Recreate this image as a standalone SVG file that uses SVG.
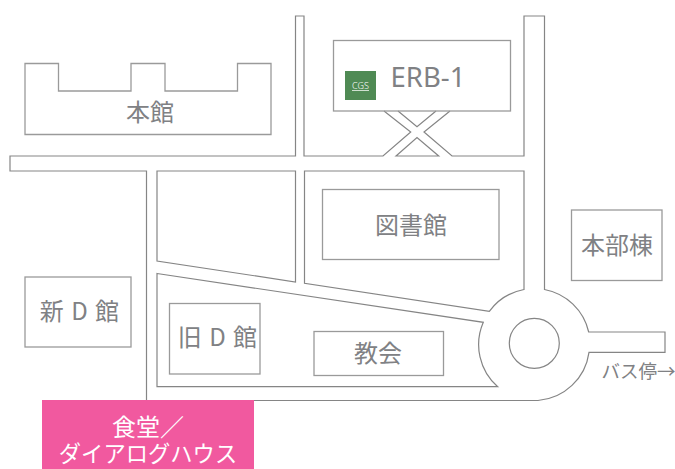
<svg xmlns="http://www.w3.org/2000/svg" width="675" height="469" viewBox="0 0 675 469">
<style>
.l{fill:none;stroke:#858585;stroke-width:1.2}
.b{fill:none;stroke:#9a9a9a;stroke-width:1.3}
text{font-family:"Noto Sans CJK JP","Noto Sans",sans-serif;font-weight:400;font-size:24px;fill:#808184;text-anchor:middle}
</style>
<rect width="675" height="469" fill="#fff"/>
<g id="roads">
<path class="l" d="M146.500 400.500V171H10V156H295.500V16H304V156H383L410.700 132 384 111M398 111 417 126.700 436 111M450 111 424 132 452 156H524V16H544.500V289.500A56 56 0 0 1 588.700 332H665V352.300H589A56 56 0 0 1 538 400.500H146.500"/>
<path class="l" d="M396 156 417 137.500 438.700 156Z"/>
<path class="l" d="M157 171H295.500V282L157 261Z"/>
<path class="l" d="M304.500 171H524V289.500A56 56 0 0 0 489.300 311.300L304.500 283.300Z"/>
<path class="l" d="M157 273.500 483.300 322.300A56 56 0 0 0 497.700 386.700H157Z"/>
<circle class="l" cx="534.300" cy="343.300" r="25"/>
</g>
<g id="honkan">
<path class="b" d="M25 63.500H58.500V91H131V63.500H165V91H237.500V63.500H271V134.500H25Z"/>
<text x="150" y="121">本館</text>
</g>
<g id="erb1">
<rect class="b" x="333.500" y="40.500" width="177" height="70.500"/>
<rect x="345" y="71" width="31" height="29" fill="#4f8a54"/>
<rect x="352" y="90" width="17" height="1" fill="#cfe0d0"/>
<text x="360.500" y="88.500" style="font-family:'Noto Sans',sans-serif;font-weight:300;font-size:9px;fill:#fff">CGS</text>
<text x="428" y="86.500" style="font-family:'Noto Sans',sans-serif;font-size:27.500px">ERB-1</text>
</g>
<g id="library">
<rect class="b" x="322.500" y="189.500" width="176.500" height="70"/>
<text x="411" y="234">図書館</text>
</g>
<g id="honbu">
<rect class="b" x="571.500" y="210" width="90.500" height="70.500"/>
<text x="617" y="254">本部棟</text>
</g>
<g id="shin-d">
<rect class="b" x="25" y="277" width="106" height="70"/>
<text x="79.500" y="320" word-spacing="2">新 D 館</text>
</g>
<g id="kyu-d">
<rect class="b" x="169.500" y="303.500" width="90.500" height="70.500"/>
<text x="217.500" y="346" word-spacing="2">旧 D 館</text>
</g>
<g id="church">
<rect class="b" x="314" y="331.500" width="129.500" height="44"/>
<text x="378" y="362">教会</text>
</g>
<g id="bus">
<text x="638.500" y="378" style="font-size:18.500px">バス停→</text>
</g>
<g id="cafeteria">
<rect x="42" y="400" width="212" height="69" fill="#f1599f"/>
<text style="fill:#fff"><tspan x="148" y="436">食堂／</tspan><tspan x="148" y="462" style="font-size:22.300px">ダイアログハウス</tspan></text>
</g>
</svg>
